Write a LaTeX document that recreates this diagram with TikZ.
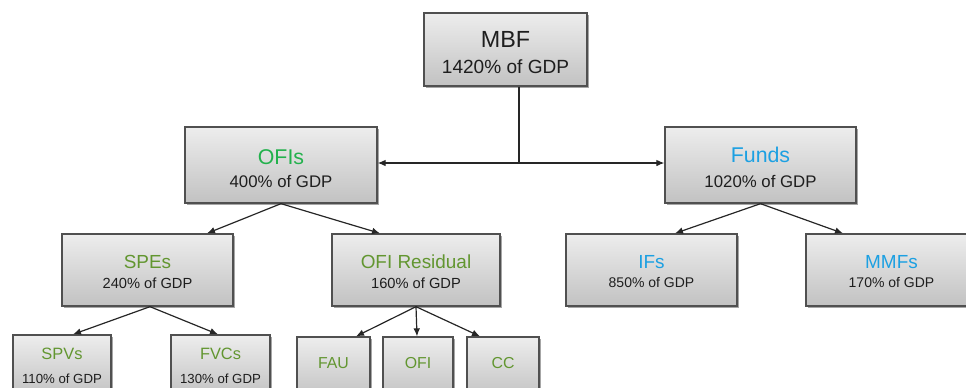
\documentclass[tikz,border=0pt]{standalone}
\usepackage{fontspec}
\setmainfont{Liberation Sans}
\usetikzlibrary{arrows.meta,calc,shadows}
\definecolor{ofigreen}{RGB}{34,177,76}
\definecolor{olive}{RGB}{98,150,48}
\definecolor{fundblue}{RGB}{28,160,226}
\definecolor{txt}{RGB}{30,30,30}
\definecolor{edge}{RGB}{80,80,80}
\tikzset{
  box/.style={draw=edge, line width=1pt, rectangle, inner sep=0pt,
    top color=white!93!black, bottom color=white!76!black,
    drop shadow={shadow xshift=1.2pt, shadow yshift=-1.2pt, opacity=0.35, fill=black}},
  arr/.style={draw=black!85, line width=0.9pt, -{Latex[length=6pt,width=5pt]}},
  lbl/.style={inner sep=0pt, text=txt, anchor=center},
}
\begin{document}
\begin{tikzpicture}[x=0.75pt,y=-0.75pt]
\useasboundingbox (0,0) rectangle (966,387);
\clip (0,0) rectangle (966,387);
% boxes
\node[box, minimum width=163*0.75pt, minimum height=73*0.75pt] (mbf) at (505.5,49.5) {};
\node[box, minimum width=192*0.75pt, minimum height=76*0.75pt] (ofis) at (281,165) {};
\node[box, minimum width=191*0.75pt, minimum height=76*0.75pt] (funds) at (760.5,165) {};
\node[box, minimum width=171*0.75pt, minimum height=72*0.75pt] (spes) at (147.5,270) {};
\node[box, minimum width=168*0.75pt, minimum height=72*0.75pt] (res) at (416,270) {};
\node[box, minimum width=171*0.75pt, minimum height=72*0.75pt] (ifs) at (651.5,270) {};
\node[box, minimum width=171*0.75pt, minimum height=72*0.75pt] (mmfs) at (891.5,270) {};
\node[box, minimum width=98*0.75pt, minimum height=62*0.75pt] (spvs) at (62,366) {};
\node[box, minimum width=99*0.75pt, minimum height=62*0.75pt] (fvcs) at (220.5,366) {};
\node[box, minimum width=73*0.75pt, minimum height=62*0.75pt] (fau) at (333.5,368) {};
\node[box, minimum width=70*0.75pt, minimum height=62*0.75pt] (ofi) at (418,368) {};
\node[box, minimum width=72*0.75pt, minimum height=62*0.75pt] (cc) at (503,368) {};
% labels
\node[lbl, font=\fontsize{17.5}{20}\selectfont] (mbft) at (505.5,39) {MBF};
\node[lbl, font=\fontsize{14.3}{17}\selectfont] (mbfs) at (505.5,67) {1420\% of GDP};
\node[lbl, font=\fontsize{16}{19}\selectfont, text=ofigreen] (ofist) at (281,157) {OFIs};
\node[lbl, font=\fontsize{12.6}{15}\selectfont] (ofiss) at (281,181) {400\% of GDP};
\node[lbl, font=\fontsize{16}{19}\selectfont, text=fundblue] (fundst) at (760.5,155) {Funds};
\node[lbl, font=\fontsize{12.6}{15}\selectfont] (fundss) at (760.5,181) {1020\% of GDP};
\node[lbl, font=\fontsize{14.2}{17}\selectfont, text=olive] (spest) at (147.5,262) {SPEs};
\node[lbl, font=\fontsize{11}{13}\selectfont] (spess) at (147.5,283) {240\% of GDP};
\node[lbl, font=\fontsize{14.2}{17}\selectfont, text=olive] (rest) at (416,262) {OFI Residual};
\node[lbl, font=\fontsize{11}{13}\selectfont] (ress) at (416,283) {160\% of GDP};
\node[lbl, font=\fontsize{14.2}{17}\selectfont, text=fundblue] (ifst) at (651.5,262) {IFs};
\node[lbl, font=\fontsize{10.5}{13}\selectfont] (ifss) at (651.5,282) {850\% of GDP};
\node[lbl, font=\fontsize{14.2}{17}\selectfont, text=fundblue] (mmfst) at (891.5,262) {MMFs};
\node[lbl, font=\fontsize{10.5}{13}\selectfont] (mmfss) at (891.5,282) {170\% of GDP};
\node[lbl, font=\fontsize{12.3}{15}\selectfont, text=olive] (spvst) at (62,354) {SPVs};
\node[lbl, font=\fontsize{9.9}{12}\selectfont] (spvss) at (62,379) {110\% of GDP};
\node[lbl, font=\fontsize{12.3}{15}\selectfont, text=olive] (fvcst) at (220.5,354) {FVCs};
\node[lbl, font=\fontsize{9.9}{12}\selectfont] (fvcss) at (220.5,379) {130\% of GDP};
\node[lbl, font=\fontsize{11.9}{14}\selectfont, text=olive] (faut) at (333.5,363) {FAU};
\node[lbl, font=\fontsize{11.9}{14}\selectfont, text=olive] (ofit) at (418,363) {OFI};
\node[lbl, font=\fontsize{11.9}{14}\selectfont, text=olive] (cct) at (503,363) {CC};
% connectors
\coordinate (j) at (519,163);
\draw[black!85, line width=1.6pt] (mbf.south -| j) -- (j);
\draw[arr] (j) -- (ofis.east |- j);
\draw[arr] (j) -- (funds.west |- j);
\draw[arr] (ofis.south) -- ($(spes.north)+(59.5,0)$);
\draw[arr] (ofis.south) -- ($(res.north)+(-36,0)$);
\draw[arr] ($(spes.south)+(2.5,0)$) -- ($(spvs.north)+(11,0)$);
\draw[arr] ($(spes.south)+(2.5,0)$) -- ($(fvcs.north)+(-2.5,0)$);
\draw[arr] (res.south) -- ($(fau.north)+(22.5,0)$);
\draw[arr] (res.south) -- ($(ofi.north)+(-1,0)$);
\draw[arr] (res.south) -- ($(cc.north)+(-23,0)$);
\draw[arr] (funds.south) -- ($(ifs.north)+(23.5,0)$);
\draw[arr] (funds.south) -- ($(mmfs.north)+(-48.5,0)$);
\end{tikzpicture}
\end{document}
